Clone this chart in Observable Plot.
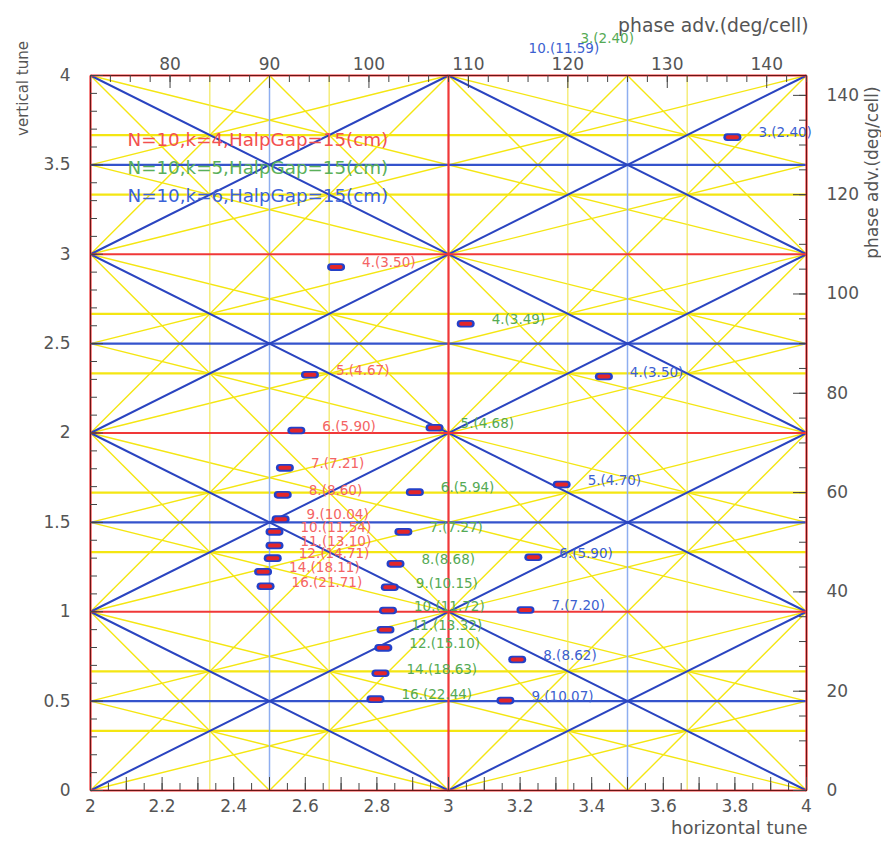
<!DOCTYPE html>
<html><head><meta charset="utf-8">
<script src="https://cdn.jsdelivr.net/npm/d3@7"></script>
<script src="https://cdn.jsdelivr.net/npm/@observablehq/plot@0.6"></script>
<style>body{margin:0;background:#fff;} #chart{width:881px;height:842px;}</style>
</head><body><div id="chart"></div>
<script>
// ---- Tune data (horizontal tune qx, vertical tune qy) ----
// N=10, k=4 (red)
const k4Labels = ["4.(3.50)","5.(4.67)","6.(5.90)","7.(7.21)","8.(8.60)","9.(10.04)","10.(11.54)","11.(13.10)","12.(14.71)","14.(18.11)","16.(21.71)"];
const k4Qx = [2.686, 2.613, 2.575, 2.543, 2.537, 2.531, 2.514, 2.514, 2.509, 2.482, 2.489];
const k4Qy = [2.928, 2.326, 2.014, 1.805, 1.654, 1.518, 1.447, 1.371, 1.300, 1.224, 1.143];
// N=10, k=5 (green)
const k5Labels = ["3.(2.40)","4.(3.49)","5.(4.68)","6.(5.94)","7.(7.27)","8.(8.68)","9.(10.15)","10.(11.72)","11.(13.32)","12.(15.10)","14.(18.63)","16.(22.44)"];
const k5Qx = [3.296, 3.048, 2.961, 2.906, 2.874, 2.852, 2.836, 2.831, 2.824, 2.818, 2.810, 2.796];
const k5Qy = [4.185, 2.611, 2.029, 1.669, 1.447, 1.268, 1.137, 1.007, 0.899, 0.798, 0.656, 0.511];
// N=10, k=6 (blue)
const k6Labels = ["3.(2.40)","4.(3.50)","5.(4.70)","6.(5.90)","7.(7.20)","8.(8.62)","9.(10.07)","10.(11.59)"];
const k6Qx = [3.793, 3.434, 3.316, 3.237, 3.215, 3.192, 3.159, 3.151];
const k6Qy = [3.655, 2.316, 1.712, 1.305, 1.010, 0.733, 0.503, 4.129];

const legendLines = ["N=10,k=4,HalpGap=15(cm)", "N=10,k=5,HalpGap=15(cm)", "N=10,k=6,HalpGap=15(cm)"];

// Resonance families a*qx + b*qy = n
const integerRes = [[1,0],[0,1]];
const halfVertRes = [[2,0]];
const halfHorizRes = [[0,2]];
const couplingRes = [[1,1],[1,-1]];
const thirdVertRes = [[3,0]];
const thirdHorizRes = [[0,3]];
const thirdDiagRes = [[1,2],[1,-2],[2,1],[2,-1]];

// Axis ticks
const xLabelTicks = [2, 2.2, 2.4, 2.6, 2.8, 3, 3.2, 3.4, 3.6, 3.8, 4];
const yLabelTicks = [0, 0.5, 1, 1.5, 2, 2.5, 3, 3.5, 4];
const topPhaseLabels = [80, 90, 100, 110, 120, 130, 140];
const rightPhaseLabels = [0, 20, 40, 60, 80, 100, 120, 140];
const cellsN = 10; // phase adv per cell = tune*360/N

const X0 = 2, X1 = 4, Y0 = 0, Y1 = 4;
const degPerTune = 360 / cellsN;

function gcd(a, b) { a = Math.abs(a); b = Math.abs(b); while (b) { [a, b] = [b, a % b]; } return a; }
function segments(coefs) {
  const out = [];
  for (const [a, b] of coefs) {
    const vals = [a*X0+b*Y0, a*X1+b*Y0, a*X0+b*Y1, a*X1+b*Y1];
    for (let n = Math.ceil(Math.min(...vals) - 1e-9); n <= Math.floor(Math.max(...vals) + 1e-9); n++) {
      if (gcd(gcd(a, b), n) !== 1) continue;
      const pts = [];
      if (b !== 0) for (const x of [X0, X1]) { const y = (n - a*x)/b; if (y >= Y0-1e-9 && y <= Y1+1e-9) pts.push([x, y]); }
      if (a !== 0) for (const y of [Y0, Y1]) { const x = (n - b*y)/a; if (x >= X0-1e-9 && x <= X1+1e-9) pts.push([x, y]); }
      if (pts.length < 2) continue;
      pts.sort((p, q) => (p[0] - q[0]) || (p[1] - q[1]));
      const p = pts[0], q = pts[pts.length - 1];
      if (Math.hypot(p[0]-q[0], p[1]-q[1]) < 1e-6) continue;
      out.push({x1: p[0], y1: p[1], x2: q[0], y2: q[1]});
    }
  }
  return out;
}
function rows(labels, qx, qy) { return labels.map((l, i) => ({label: l, qx: qx[i], qy: qy[i]})); }
const k4 = rows(k4Labels, k4Qx, k4Qy);
const k5 = rows(k5Labels, k5Qx, k5Qy);
const k6 = rows(k6Labels, k6Qx, k6Qy);

function capsule(hw, hh) {
  return {draw(ctx) {
    const c = Math.max(0, hw - hh);
    ctx.moveTo(-c, -hh);
    ctx.lineTo(c, -hh);
    ctx.arc(c, 0, hh, -Math.PI/2, Math.PI/2);
    ctx.lineTo(-c, hh);
    ctx.arc(-c, 0, hh, Math.PI/2, 3*Math.PI/2);
    ctx.closePath();
  }};
}
const outerSym = capsule(9, 3.8);
const innerSym = capsule(6.5, 2);

const link = (coefs, stroke, sw, op = 1) => Plot.link(segments(coefs), {x1: "x1", y1: "y1", x2: "x2", y2: "y2", stroke, strokeWidth: sw, strokeOpacity: op});
const dots = (data) => [
  Plot.dot(data, {x: "qx", y: "qy", symbol: outerSym, r: 5, fill: "#2440c8", stroke: "none", clip: true}),
  Plot.dot(data, {x: "qx", y: "qy", symbol: innerSym, r: 3, fill: "#e3262a", stroke: "none", clip: true})
];
const labels = (data, fill) => Plot.text(data, {x: "qx", y: "qy", text: "label", dx: 26, dy: -4, textAnchor: "start", fill, fontSize: 13.5});
const fmt1 = d => String(+(+d).toFixed(2));

const chart = Plot.plot({
  width: 881, height: 842,
  marginLeft: 90, marginRight: 75, marginTop: 75, marginBottom: 52,
  x: {domain: [X0, X1]},
  y: {domain: [Y0, Y1]},
  style: {fontFamily: "DejaVu Sans", fontSize: "17px", background: "#fff", overflow: "visible"},
  marks: [
    // third-order resonances (yellow)
    link(thirdDiagRes, "#f4e612", 1.4),
    link(thirdVertRes, "#f2e85a", 1.2),
    link(thirdHorizRes, "#f4e612", 2.2),
    // half-integer and coupling (blue)
    link(halfVertRes, "#8eaef0", 1.5),
    link(halfHorizRes, "#3453cc", 2.2),
    link(couplingRes, "#2a44c0", 2),
    // integer (red)
    link(integerRes, "#f03838", 2.2),
    Plot.frame({stroke: "#6a1414", strokeWidth: 1}),
    // inward ticks
    Plot.tickX(d3.range(2, 4.0001, 0.05), {x: d => d, insetTop: 715 - 7, stroke: "#444"}),
    Plot.tickX(d3.range(2, 4.0001, 0.1), {x: d => d, insetTop: 715 - 13, stroke: "#444"}),
    Plot.tickY(d3.range(0, 4.0001, 0.1), {y: d => d, insetRight: 716 - 7, stroke: "#444"}),
    Plot.tickY(d3.range(0, 4.0001, 0.5), {y: d => d, insetRight: 716 - 13, stroke: "#444"}),
    Plot.tickX(d3.range(72, 144.001, 2).map(p => p / degPerTune), {x: d => d, insetBottom: 715 - 7, stroke: "#444"}),
    Plot.tickX(d3.range(80, 144.001, 10).map(p => p / degPerTune), {x: d => d, insetBottom: 715 - 13, stroke: "#444"}),
    Plot.tickY(d3.range(0, 144.001, 5).map(p => p / degPerTune), {y: d => d, insetLeft: 716 - 7, stroke: "#444"}),
    Plot.tickY(d3.range(0, 144.001, 20).map(p => p / degPerTune), {y: d => d, insetLeft: 716 - 13, stroke: "#444"}),
    // tick labels
    Plot.axisX({anchor: "bottom", ticks: xLabelTicks, tickFormat: fmt1, tickSize: 0, tickPadding: 9, color: "#555", label: null}),
    Plot.axisY({anchor: "left", ticks: yLabelTicks, tickFormat: fmt1, tickSize: 0, tickPadding: 20, color: "#555", label: null}),
    Plot.axisX({anchor: "top", ticks: topPhaseLabels.map(p => p / degPerTune), tickFormat: d => Math.round(d * degPerTune), tickSize: 0, tickPadding: 6, color: "#555", label: null}),
    Plot.axisY({anchor: "right", ticks: rightPhaseLabels.map(p => p / degPerTune), tickFormat: d => Math.round(d * degPerTune), tickSize: 0, tickPadding: 20, color: "#555", label: null}),
    // axis titles
    Plot.text(["horizontal tune"], {frameAnchor: "bottom-right", dx: 1, dy: 43, textAnchor: "end", fontSize: 18, fill: "#555"}),
    Plot.text(["phase adv.(deg/cell)"], {frameAnchor: "top-right", dx: 2, dy: -57, textAnchor: "end", fontSize: 18.8, fill: "#555"}),
    Plot.text(["vertical tune"], {frameAnchor: "top-left", dx: -73, dy: 13, rotate: -90, textAnchor: "middle", fontSize: 15, fill: "#555"}),
    Plot.text(["phase adv.(deg/cell)"], {frameAnchor: "top-right", dx: 59, dy: 97, rotate: -90, textAnchor: "middle", fontSize: 17, fill: "#555"}),
    // legend
    Plot.text([legendLines[0]], {frameAnchor: "top-left", dx: 37, dy: 57, textAnchor: "start", fontSize: 18.3, fill: "#f25050"}),
    Plot.text([legendLines[1]], {frameAnchor: "top-left", dx: 37, dy: 85, textAnchor: "start", fontSize: 18.3, fill: "#5ab05a"}),
    Plot.text([legendLines[2]], {frameAnchor: "top-left", dx: 37, dy: 113, textAnchor: "start", fontSize: 18.3, fill: "#3b62d8"}),
    // tune points
    ...dots(k4), ...dots(k5), ...dots(k6),
    labels(k4, "#f46464"),
    labels(k5, "#55aa55"),
    labels(k6, "#3c5fd0")
  ]
});
document.getElementById("chart").appendChild(chart);
</script>
</body></html>
